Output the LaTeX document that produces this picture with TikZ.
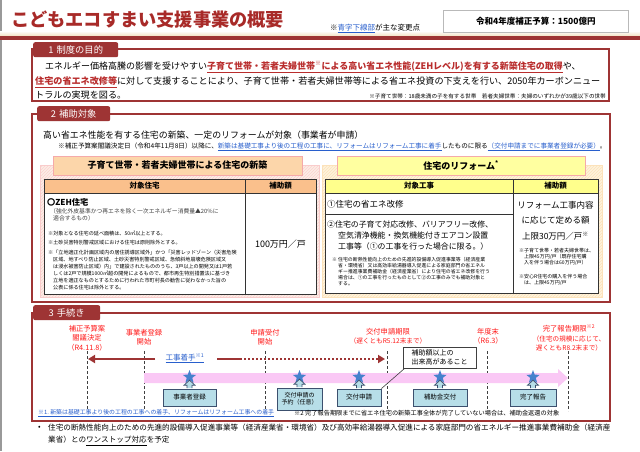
\documentclass[tikz,border=0pt]{standalone}
\usepackage{fontspec}
\setmainfont{Noto Sans CJK JP}
\usetikzlibrary{shapes.geometric,patterns,arrows.meta}
\definecolor{dred}{RGB}{158,52,52}
\definecolor{tred}{RGB}{168,42,40}
\definecolor{ured}{RGB}{185,45,45}
\definecolor{ublue}{RGB}{40,95,205}
\definecolor{lred}{RGB}{255,25,25}
\definecolor{orhead}{RGB}{252,214,170}
\definecolor{orrow}{RGB}{250,192,140}
\definecolor{yehead}{RGB}{255,255,160}
\definecolor{yerow}{RGB}{255,255,140}
\definecolor{pinkbd}{RGB}{245,170,170}
\definecolor{pinkbg}{RGB}{253,236,232}
\definecolor{pinkst}{RGB}{250,212,206}
\definecolor{yelbg}{RGB}{255,243,220}
\definecolor{yelst}{RGB}{252,226,186}
\definecolor{band}{RGB}{250,200,245}
\definecolor{starb}{RGB}{70,130,205}
\definecolor{callf}{RGB}{183,222,232}
\definecolor{callb}{RGB}{60,80,110}
\definecolor{beige}{RGB}{242,226,195}
\newcommand\fsz[2]{\fontsize{#1pt}{#2pt}\selectfont}
\newcommand\ulx[1]{\underline{#1}}
\tikzset{
  tabbox/.style={fill=dred, text=white, font=\fsz{9.3}{10}, rounded corners=2pt, inner sep=0pt, minimum height=15pt},
  secbox/.style={draw=dred, line width=1.3pt},
  txt/.style={inner sep=0pt, anchor=west},
  tlab/.style={inner sep=0pt, text=lred, font=\fsz{7.3}{9.3}, align=center},
  tline/.style={draw=black!75, line width=0.8pt, dash pattern=on 3pt off 2pt},
  bstar/.style={star, star points=5, star point ratio=2.4, fill=starb, minimum size=14pt, inner sep=0pt},
  callbox/.style={draw=callb, fill=callf, line width=0.8pt, font=\fsz{6.5}{7.5}, inner sep=1pt, align=center},
  uparr/.style={fill=callf, draw=callb, line width=0.7pt},
  tgrid/.style={draw=black!80, line width=0.7pt}
}
\begin{document}
\begin{tikzpicture}[x=1pt,y=-1pt]
\useasboundingbox (0,0) rectangle (640,451);
\fill[white] (0,0) rectangle (640,451);
\draw[gray!80, line width=1.6pt] (1,0) -- (1,451);
% ---------- header
\shade[top color=white, bottom color=beige] (0,31) rectangle (640,36);
\fill[dred] (0,36) rectangle (640,39.5);
\node[txt, text=tred, font=\fsz{18.2}{20}\bfseries] (title) at (11,20) {こどもエコすまい支援事業の概要};
\node[txt, font=\fsz{7.5}{9}] (chg) at (330,28.5) {※{\color{ublue}\ulx{青字下線部}}が主な変更点};
\node[draw=gray!55, fill=white, line width=0.8pt, minimum width=185pt, minimum height=22pt, font=\fsz{8.5}{9}\bfseries, anchor=north west] (budget) at (443,10) {令和4年度補正予算：1500億円};
% ---------- section 1
\draw[secbox] (32,49) rectangle (609,101);
\node[tabbox, minimum width=85pt, anchor=north west] (tab1) at (33,42) {1\,\,制度の目的};
\node[txt, font=\fsz{9.0}{10}] (s1a) at (45,67) {エネルギー価格高騰の影響を受けやすい{\color{ured}\bfseries\ulx{子育て世帯・若者夫婦世帯\textsuperscript{※}による高い省エネ性能(ZEHレベル)を有する新築住宅の取得}}や、};
\node[txt, font=\fsz{9.1}{10}] (s1b) at (35,82) {{\color{ured}\bfseries\ulx{住宅の省エネ改修等}}に対して支援することにより、子育て世帯・若者夫婦世帯等による省エネ投資の下支えを行い、2050年カーボンニュー};
\node[txt, font=\fsz{9.1}{10}] (s1c) at (35,95) {トラルの実現を図る。};
\node[inner sep=0pt, anchor=east, font=\fsz{5.6}{6}] (s1n) at (606,96) {※子育て世帯：18歳未満の子を有する世帯\quad 若者夫婦世帯：夫婦のいずれかが39歳以下の世帯};
% ---------- section 2
\draw[secbox] (32,114) rectangle (610,302);
\node[tabbox, minimum width=73pt, anchor=north west] (tab2) at (37,106) {2\,\,補助対象};
\node[txt, font=\fsz{8.9}{10}] (s2a) at (43,135) {高い省エネ性能を有する住宅の新築、一定のリフォームが対象（事業者が申請）};
\node[txt, font=\fsz{6.6}{7}] (s2b) at (58,147) {※補正予算案閣議決定日（令和4年11月8日）以降に、{\color{ublue}\ulx{新築は基礎工事より後の工程の工事に、リフォームはリフォーム工事に着手}}したものに限る{\color{ublue}\ulx{（交付申請までに事業者登録が必要）}}。};
% left panel
\fill[pinkbg] (40,165) rectangle (319,297);
\fill[pattern=north east lines, pattern color=pinkst] (40,165) rectangle (319,297);
\draw[pinkbd!60, line width=0.6pt] (40,165) rectangle (319,297);
\node[draw=pinkbd, fill=orhead, line width=1pt, minimum width=249pt, minimum height=19pt, font=\fsz{9}{10}\bfseries] (lhead) at (177.5,165.5) {子育て世帯・若者夫婦世帯による住宅の新築};
\fill[white] (44,193) rectangle (316,294);
\fill[orrow] (44,179) rectangle (316,193);
\draw[tgrid] (44,179) rectangle (316,294);
\draw[tgrid] (44,193) -- (316,193);
\draw[tgrid] (245,179) -- (245,294);
\node[font=\fsz{7.5}{8}\bfseries, inner sep=0pt] (lh1) at (144.5,186) {対象住宅};
\node[font=\fsz{7.5}{8}\bfseries, inner sep=0pt] (lh2) at (280.5,186) {補助額};
\node[txt, font=\fsz{8.2}{9}\bfseries] (zeh) at (47,202) {〇ZEH住宅};
\node[txt, font=\fsz{5.8}{7.2}, text=black!75, align=left] (zehn) at (50,214.5) {（強化外皮基準かつ再エネを除く一次エネルギー消費量▲20\%に\\\hspace*{3pt}適合するもの）};
\node[txt, font=\fsz{5.1}{6}] (ln1) at (48,233) {※対象となる住宅の延べ面積は、50㎡以上とする。};
\node[txt, font=\fsz{5.1}{6}] (ln2) at (48,243) {※土砂災害特別警戒区域における住宅は原則除外とする。};
\node[txt, font=\fsz{5.1}{7}, align=left] (ln3) at (48,270.5) {※「立地適正化計画区域内の居住誘導区域外」かつ「災害レッドゾーン（災害危険\\
\hspace*{5pt}区域、地すべり防止区域、土砂災害特別警戒区域、急傾斜地崩壊危険区域又\\
\hspace*{5pt}は浸水被害防止区域）内」で建設されたもののうち、3戸以上の開発又は1戸若\\
\hspace*{5pt}しくは2戸で規模1000㎡超の開発によるもので、都市再生特別措置法に基づき\\
\hspace*{5pt}立地を適正なものとするために行われた市町村長の勧告に従わなかった旨の\\
\hspace*{5pt}公表に係る住宅は除外とする。};
\node[font=\fsz{9}{10}, inner sep=0pt] (amt1) at (280.5,244) {100万円／戸};
% right panel
\fill[yelbg] (322,165) rectangle (602,297);
\fill[pattern=north east lines, pattern color=yelst] (322,165) rectangle (602,297);
\draw[yelst, line width=0.6pt] (322,165) rectangle (602,297);
\node[draw=pinkbd, fill=yehead, line width=1pt, minimum width=248pt, minimum height=19pt, font=\fsz{9}{10}\bfseries] (rhead) at (461,165.5) {住宅のリフォーム\textsuperscript{*}};
\fill[white] (325,193) rectangle (598,293);
\fill[yerow] (325,179) rectangle (598,193);
\draw[tgrid] (325,179) rectangle (598,293);
\draw[tgrid] (325,193) -- (598,193);
\draw[tgrid] (513,179) -- (513,293);
\draw[tgrid] (325,214) -- (513,214);
\node[font=\fsz{7.5}{8}\bfseries, inner sep=0pt] (rh1) at (419,186) {対象工事};
\node[font=\fsz{7.5}{8}\bfseries, inner sep=0pt] (rh2) at (555.5,186) {補助額};
\node[txt, font=\fsz{8.5}{9}] (r1) at (327,204) {①住宅の省エネ改修};
\node[txt, font=\fsz{7.9}{11}, align=left] (r2) at (327,236) {②住宅の子育て対応改修、バリアフリー改修、\\\hspace*{11pt}空気清浄機能・換気機能付きエアコン設置\\\hspace*{11pt}工事等（①の工事を行った場合に限る。）};
\node[txt, font=\fsz{4.9}{6}, align=left] (r3) at (332,272) {※ 住宅の断熱性能向上のための先進的設備導入促進事業等（経済産業\\
\hspace*{6pt}省・環境省）又は高効率給湯器導入促進による家庭部門の省エネル\\
\hspace*{6pt}ギー推進事業費補助金（経済産業省）により住宅の省エネ改修を行う\\
\hspace*{6pt}場合は、①の工事を行ったものとして②の工事のみでも補助対象と\\
\hspace*{6pt}する。};
\node[font=\fsz{8.5}{15}, inner sep=0pt, align=center] (rc1) at (555.5,212.5) {リフォーム工事内容\\に応じて定める額};
\node[font=\fsz{8.5}{9}, inner sep=0pt] (rc2) at (555.5,236) {上限30万円／戸\textsuperscript{※}};
\node[txt, font=\fsz{5}{6}, align=left] (rc3) at (519,257) {※子育て世帯・若者夫婦世帯は、\\\hspace*{5pt}上限45万円/戸（既存住宅購\\\hspace*{5pt}入を伴う場合は60万円/戸）};
\node[txt, font=\fsz{5}{6}, align=left] (rc4) at (519,280) {※安心R住宅の購入を伴う場合\\\hspace*{5pt}は、上限45万円/戸};
% ---------- section 3
\draw[secbox] (32,313) rectangle (610,421);
\node[tabbox, minimum width=67pt, anchor=north west] (tab3) at (33,305) {3\,\,手続き};
% labels
\node[tlab] (lab1) at (87,338) {補正予算案\\閣議決定\\（R4.11.8）};
\node[tlab] (lab2) at (144,337.5) {事業者登録\\開始};
\node[tlab] (lab3) at (265,337.5) {申請受付\\開始};
\node[tlab] (lab4) at (388,336.5) {交付申請期限\\{\fsz{6.6}{8}（遅くともR5.12末まで）}};
\node[tlab] (lab5) at (488,336.5) {年度末\\（R6.3）};
\node[tlab] (lab6) at (569,338) {完了報告期限\textsuperscript{※2}\\{\fsz{6.6}{9.3}（住宅の規模に応じて、}\\{\fsz{6.6}{9.3}遅くともR8.2末まで）}};
% dashed lines
\foreach \n/\x in {1/87,2/144,3/265,4/387,5/487,6/568}{
  \coordinate (t\n) at (\x,351);
  \coordinate (b\n) at (\x,411);
  \draw[tline] (t\n) -- (b\n);
}
% pink band
\fill[band] (144,373) -- (558,373) -- (558,369) -- (568,378) -- (558,387) -- (558,383) -- (144,383) -- cycle;
% construction arrow
\coordinate (aL) at (88,359);
\coordinate (aL2) at (155,359);
\coordinate (aM1) at (217,359);
\coordinate (aM2) at (240,359);
\coordinate (aR) at (385,359);
\node[inner sep=0pt, font=\fsz{7.5}{8}, text=ublue] (koji) at (185,358) {\ulx{工事着手\textsuperscript{※1}}};
\draw[dred, line width=2pt, -{Triangle[length=7pt,width=8pt]}] (aL2) -- (aL);
\draw[dred, line width=2pt] (aM1) -- (aM2);
\draw[dred, line width=2pt, dash pattern=on 2pt off 2pt, -{Triangle[length=7pt,width=8pt]}] (aM2) -- (aR);
% stars
\foreach \n/\x in {1/189.5,2/299.5,3/359,4/440,5/533}{
  \node[bstar] (s\n) at (\x,377) {};
}
% callout boxes
\node[callbox, minimum width=53pt, minimum height=17pt] (c1) at (189.5,397.5) {事業者登録};
\node[callbox, minimum width=45pt, minimum height=22pt, font=\fsz{6}{7.5}] (c2) at (299.5,399) {交付申請の\\予約（任意）};
\node[callbox, minimum width=44pt, minimum height=17pt] (c3) at (359,397.5) {交付申請};
\node[callbox, minimum width=54pt, minimum height=17pt] (c4) at (440,397.5) {補助金交付};
\node[callbox, minimum width=46pt, minimum height=17pt] (c5) at (533,397.5) {完了報告};
\foreach \n in {1,...,5}{
  \filldraw[uparr] ([yshift=0.4pt]c\n.north) ++(-2.5,0) -- ++(0,-3) -- ++(-3,0) -- ++(5.5,-5) -- ++(5.5,5) -- ++(-3,0) -- ++(0,3);
}
% condition callout
\node[draw=black!75, fill=white, line width=0.8pt, minimum width=73pt, minimum height=21pt, font=\fsz{7}{9}, align=left, inner sep=2pt] (cond) at (439.5,357.5) {補助額以上の\\出来高があること};
\draw[black!75, line width=0.6pt] (c3.north east) -- ([xshift=2pt]cond.south west);
% footnote
\node[txt, font=\fsz{5.9}{7}] (fn1) at (38,413) {{\color{ublue}\ulx{※1.\ 新築は基礎工事より後の工程の工事への着手、リフォームはリフォーム工事への着手}}};
\node[txt, font=\fsz{6.2}{7}] (fn2) at (294,413) {※2\ 完了報告期限までに省エネ住宅の新築工事全体が完了していない場合は、補助金返還の対象};
% bullet
\node[txt, font=\fsz{7.6}{8}] (bul) at (38,428) {•};
\node[txt, font=\fsz{7.6}{8}] (bl1) at (48,428) {住宅の断熱性能向上のための先進的設備導入促進事業等（経済産業省・環境省）及び高効率給湯器導入促進による家庭部門の省エネルギー推進事業費補助金（経済産};
\node[txt, font=\fsz{7.6}{8}] (bl2) at (48,441) {業省）との\ulx{ワンストップ対応}を予定};
\end{tikzpicture}
\end{document}
